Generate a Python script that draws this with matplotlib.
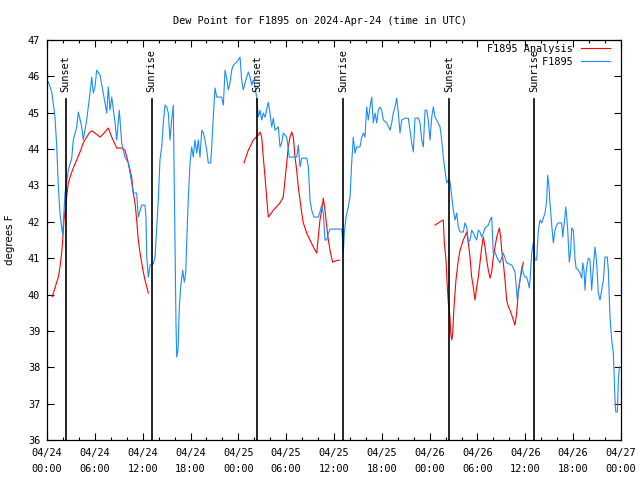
import datetime as dt
import matplotlib
matplotlib.use("Agg")
import matplotlib.pyplot as plt
from matplotlib.ticker import MultipleLocator

# hours after 2024-04-24 00:00 UTC
obs_hours = [0.16, 0.59, 1.0, 1.22, 1.42, 1.63, 1.84, 1.97, 2.26, 2.67, 3.10, 3.30, 3.73, 3.93,
             4.35, 4.55, 4.98, 5.39, 5.61, 5.81, 6.02, 6.23, 6.65, 7.06, 7.49, 7.69, 7.90, 8.12,
             8.53, 8.74, 9.07, 9.37, 9.78, 10.20, 10.62, 10.83, 11.25, 11.45, 11.88, 12.29, 12.42,
             12.51, 12.71, 12.92, 13.33, 13.55, 13.76, 13.96, 14.17, 14.39, 14.59, 14.80, 15.01,
             15.22, 15.43, 15.64, 15.84, 15.97, 16.06, 16.18, 16.27, 16.43, 16.60, 16.77, 17.02,
             17.22, 17.40, 17.52, 17.72, 17.94, 18.15, 18.35, 18.56, 18.78, 18.98, 19.19, 19.41,
             19.61, 19.82, 20.03, 20.23, 20.53, 20.66, 20.86, 21.07, 21.29, 21.91, 22.12, 22.33,
             22.54, 22.74, 22.96, 23.17, 23.37, 23.80, 24.21, 24.42, 24.62, 24.84, 25.25, 25.46,
             25.68, 25.88, 26.09, 26.30, 26.51, 26.72, 26.93, 27.13, 27.35, 27.76, 27.97, 28.19,
             28.39, 28.60, 29.01, 29.23, 29.44, 29.64, 30.07, 30.39, 31.32, 31.52, 31.74, 31.95,
             32.58, 32.78, 32.99, 33.20, 33.49, 34.03, 34.24, 34.46, 34.66, 34.87, 35.09, 35.29,
             35.50, 36.97, 37.09, 37.17, 37.29, 37.51, 37.79, 38.01, 38.22, 38.42, 38.64, 38.85,
             39.26, 39.48, 39.68, 39.89, 40.10, 40.30, 40.52, 40.73, 40.93, 41.14, 41.36, 41.56,
             41.77, 41.98, 42.19, 42.61, 43.03, 43.24, 43.44, 43.65, 43.87, 44.07, 44.28, 44.49,
             44.91, 45.32, 45.53, 45.75, 45.95, 46.16, 46.58, 46.79, 47.00, 47.20, 47.42, 47.63,
             47.83, 48.04, 48.26, 48.46, 48.67, 48.88, 49.30, 49.51, 49.71, 49.92, 50.14, 50.34,
             50.55, 50.77, 50.97, 51.18, 51.39, 51.59, 51.81, 52.22, 52.43, 52.65, 52.85, 53.06,
             53.27, 53.47, 53.90, 54.10, 54.31, 54.53, 54.73, 54.94, 55.36, 55.57, 55.78, 55.98,
             56.20, 56.41, 56.61, 56.82, 57.24, 57.66, 58.29, 58.49, 58.70, 58.83, 58.99, 59.12,
             59.33, 59.55, 59.75, 59.96, 60.17, 60.37, 60.50, 60.59, 60.80, 61.00, 61.21, 61.42,
             61.63, 61.84, 62.05, 62.25, 62.47, 62.68, 62.80, 62.97, 63.09, 63.31, 63.51, 63.60,
             63.72, 63.94, 64.14, 64.56, 64.69, 64.77, 64.89, 65.07, 65.19, 65.32, 65.39, 65.52,
             65.69, 65.82, 66.02, 66.23, 66.36, 66.65, 66.86, 67.07, 67.20, 67.36, 67.49, 67.61,
             67.78, 67.90, 68.11, 68.32, 68.53, 68.74, 68.95, 69.15, 69.37, 69.58, 69.79, 69.99,
             70.28, 70.41, 70.62, 70.83, 71.04, 71.12, 71.25, 71.34, 71.54, 71.67, 71.80]
obs_dewpt = [45.85, 45.58, 44.89, 44.07, 42.97, 42.24, 41.83, 41.66, 42.79, 43.42, 43.75, 44.25,
             44.61, 45.02, 44.61, 44.25, 44.80, 45.54, 45.98, 45.54, 45.71, 46.17, 46.04, 45.54,
             44.99, 45.71, 45.07, 45.43, 44.74, 44.25, 45.07, 44.17, 43.78, 43.62, 43.07, 42.79,
             42.79, 42.13, 42.46, 42.46, 42.13, 41.03, 40.48, 40.81, 40.84, 41.03, 41.86, 42.60,
             43.70, 44.06, 44.72, 45.21, 45.16, 44.99, 44.25, 44.80, 45.21, 42.87, 41.14, 39.22,
             38.28, 38.47, 39.66, 40.21, 40.67, 40.34, 40.59, 41.42, 42.60, 43.62, 44.06, 43.78,
             44.25, 43.89, 44.25, 43.78, 44.52, 44.44, 44.25, 43.97, 43.62, 43.62, 44.06, 44.88,
             45.68, 45.43, 45.43, 45.21, 46.17, 45.95, 45.63, 45.82, 46.17, 46.31, 46.39, 46.53,
             45.90, 45.63, 45.82, 46.12, 45.98, 45.76, 45.90, 45.71, 45.43, 44.88, 45.07, 44.80,
             44.99, 44.88, 45.29, 44.99, 44.61, 44.85, 44.52, 44.61, 44.06, 44.17, 44.44, 44.33,
             43.78, 43.78, 44.11, 43.51, 43.75, 43.75, 43.51, 42.60, 42.32, 42.13, 42.13, 42.27,
             42.46, 42.24, 41.50, 41.50, 41.69, 41.80, 41.80, 41.50, 41.14, 41.69, 42.13, 42.41,
             42.68, 43.62, 44.33, 43.89, 44.06, 44.06, 44.33, 44.44, 44.33, 45.16, 44.80, 45.16,
             45.43, 44.72, 44.99, 44.72, 45.07, 45.16, 45.07, 44.80, 44.72, 44.52, 44.72, 44.99,
             45.16, 45.40, 44.99, 44.44, 44.80, 44.85, 44.85, 44.52, 44.17, 43.92, 44.85, 44.85,
             44.72, 44.25, 44.06, 45.07, 45.07, 44.80, 44.25, 44.88, 45.16, 44.88, 44.80, 44.61,
             44.25, 43.78, 43.42, 43.07, 43.15, 43.10, 42.68, 42.32, 42.05, 42.24, 41.86, 41.72,
             41.72, 41.97, 41.86, 41.44, 41.50, 41.77, 41.69, 41.50, 41.77, 41.72, 41.58, 41.69,
             41.83, 41.91, 42.05, 42.13, 41.14, 41.17, 41.03, 40.95, 40.87, 41.14, 40.87, 40.81,
             40.73, 40.62, 40.32, 39.85, 40.04, 40.40, 40.76, 40.59, 40.48, 40.48, 40.32, 40.18,
             40.40, 41.14, 41.42, 40.95, 40.95, 41.77, 42.05, 41.97, 42.10, 42.24, 42.60, 43.28,
             42.96, 42.52, 41.91, 41.42, 41.58, 41.77, 41.91, 41.97, 41.97, 41.58, 41.77, 41.97,
             42.41, 42.13, 41.77, 41.42, 40.89, 41.22, 41.83, 41.77, 41.00, 40.73, 40.67, 40.59,
             40.45, 40.87, 40.67, 40.12, 40.59, 40.87, 41.00, 40.95, 40.12, 40.76, 41.31, 40.87,
             40.04, 39.85, 40.12, 40.40, 41.03, 41.03, 40.67, 39.38, 38.75, 38.39, 37.92, 37.10,
             36.77, 36.77, 37.65, 38.01]

# analysis series, three separate runs (gaps between them)
ana1_hours = [0.66, 1.0, 1.42, 1.63, 1.84, 1.97, 2.13, 2.38, 2.67, 2.89, 3.30, 3.73, 4.14, 4.55,
              4.98, 5.39, 5.68, 6.02, 6.65, 7.28, 7.69, 8.12, 8.74, 9.37, 9.78, 10.0, 10.20,
              10.62, 10.83, 11.04, 11.25, 11.45, 11.67, 11.88, 12.08, 12.29, 12.51, 12.71]
ana1_dewpt = [39.94, 40.18, 40.48, 40.76, 41.14, 41.50, 42.05, 42.52, 43.07, 43.23, 43.48, 43.70,
              43.92, 44.17, 44.33, 44.47, 44.50, 44.44, 44.33, 44.47, 44.58, 44.33, 44.03, 44.03,
              43.97, 43.78, 43.62, 43.23, 42.79, 42.52, 42.05, 41.50, 41.14, 40.87, 40.62, 40.40,
              40.21, 40.04]
ana2_hours = [24.71, 25.25, 25.88, 26.51, 26.72, 26.93, 27.13, 27.35, 27.55, 27.76, 28.39, 29.23,
              29.64, 29.85, 30.07, 30.27, 30.48, 30.70, 30.90, 31.11, 31.32, 31.52, 31.74, 31.95,
              32.15, 32.58, 32.99, 33.40, 33.83, 34.03, 34.24, 34.46, 34.66, 34.87, 35.09, 35.29,
              35.50, 35.71, 35.84, 36.13, 36.67]
ana2_dewpt = [43.62, 43.97, 44.25, 44.39, 44.47, 44.33, 43.78, 43.23, 42.68, 42.13, 42.32, 42.52,
              42.68, 43.15, 43.62, 44.06, 44.33, 44.47, 44.33, 43.78, 43.42, 42.96, 42.60, 42.24,
              41.97, 41.69, 41.50, 41.31, 41.14, 41.58, 42.05, 42.32, 42.65, 42.32, 41.86, 41.50,
              41.22, 41.00, 40.89, 40.92, 40.95]
ana3_hours = [48.67, 49.30, 49.71, 49.84, 50.05, 50.21, 50.34, 50.55, 50.64, 50.77, 50.89, 51.05,
              51.30, 51.59, 51.81, 52.22, 52.65, 52.85, 53.06, 53.27, 53.47, 53.69, 53.90, 54.10,
              54.31, 54.53, 54.73, 54.94, 55.15, 55.36, 55.57, 55.78, 55.98, 56.20, 56.41, 56.74,
              56.91, 57.03, 57.24, 57.45, 57.66, 57.87, 58.08, 58.29, 58.49, 58.70, 58.91, 59.04,
              59.12, 59.33, 59.55, 59.75]
ana3_dewpt = [41.91, 42.00, 42.05, 41.42, 40.95, 40.21, 39.77, 39.38, 38.94, 38.75, 38.94, 39.66,
              40.40, 40.95, 41.22, 41.50, 41.72, 41.42, 41.03, 40.48, 40.21, 39.85, 40.21, 40.48,
              40.87, 41.31, 41.58, 41.31, 40.95, 40.67, 40.45, 40.62, 41.03, 41.31, 41.58, 41.83,
              41.58, 41.22, 40.87, 40.40, 39.85, 39.66, 39.57, 39.44, 39.30, 39.16, 39.49, 39.85,
              40.12, 40.40, 40.67, 40.89]

sun_hours = [2.35, 13.13, 26.38, 37.17, 50.47, 61.13]
sun_names = ["Sunset", "Sunrise", "Sunset", "Sunrise", "Sunset", "Sunrise"]

series_names = ["F1895 Analysis", "F1895"]

start = dt.datetime(2024, 4, 24)
tick_hours = list(range(0, 73, 6))
tick_labels = [(start + dt.timedelta(hours=h)).strftime("%m/%d\n%H:%M") for h in tick_hours]

FS = 7.4
plt.rcParams['font.family'] = ['DejaVu Sans Mono']
plt.rcParams['font.size'] = FS

fig = plt.figure(figsize=(6.4, 4.8), dpi=100)
ax = fig.add_axes([47/640, 40/480, 574/640, 400/480])

red = '#ff0000'
blue = '#1a8cff'

# monospace font: pad names to equal width so the key text is right-aligned like gnuplot
w = max(len(n) for n in series_names)
key = [n.rjust(w) for n in series_names]

ax.plot(ana1_hours, ana1_dewpt, color=red, lw=0.8, label=key[0])
ax.plot(ana2_hours, ana2_dewpt, color=red, lw=0.8)
ax.plot(ana3_hours, ana3_dewpt, color=red, lw=0.8)
ax.plot(obs_hours, obs_dewpt, color=blue, lw=0.8, label=key[1])

# sunrise / sunset markers
for h, name in zip(sun_hours, sun_names):
    ax.plot([h, h], [36, 45.38], color='black', lw=1.2, zorder=5)
    ax.text(h, 45.57, name, rotation=90, rotation_mode='anchor',
            ha='left', va='center', fontsize=FS)

ax.set_xlim(0, 72)
ax.set_ylim(36, 47)
ax.set_xticks(tick_hours)
ax.set_xticklabels(tick_labels, linespacing=1.75)
ax.xaxis.set_minor_locator(MultipleLocator(2))
ax.set_yticks(range(36, 48))
ax.tick_params(which='both', direction='in', top=True, right=True, width=0.8)
ax.tick_params(which='major', length=5)
ax.tick_params(axis='x', which='major', pad=6)
ax.tick_params(axis='y', which='major', pad=5)
ax.tick_params(which='minor', length=2.5)
for s in ax.spines.values():
    s.set_linewidth(0.9)

ax.set_ylabel('degrees F', family='DejaVu Sans', fontsize=FS)
ax.yaxis.set_label_coords(-0.055, 0.5)
fig.suptitle('Dew Point for F1895 on 2024-Apr-24 (time in UTC)', y=0.966, fontsize=FS)

ax.legend(loc='upper right', bbox_to_anchor=(0.981, 0.99), frameon=False,
          markerfirst=False, handlelength=2.8, handletextpad=0.8,
          labelspacing=0.3, borderpad=0, borderaxespad=0, fontsize=FS)

plt.savefig('out.png', dpi=100)
